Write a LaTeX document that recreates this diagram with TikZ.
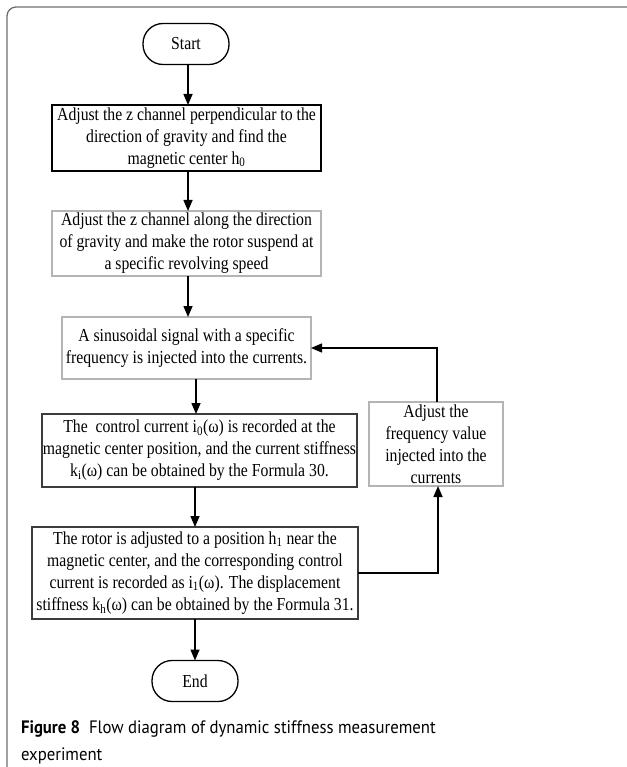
\documentclass[tikz,border=0pt]{standalone}
\usepackage{fontspec}
\setmainfont{Liberation Serif}[FakeStretch=0.86]
\newfontfamily\capfont{PT Sans}[FakeStretch=0.93]
\usetikzlibrary{arrows.meta}
\definecolor{frame}{HTML}{6E6E6E}
\definecolor{lightb}{HTML}{B4B4B4}
\definecolor{darkb}{HTML}{3C3C3C}
\tikzset{
  every node/.style={inner sep=0pt, outer sep=0pt},
  boxtext/.style={align=center, font=\fontsize{18.3}{22}\selectfont},
  stepbox/.style={boxtext, draw=#1, line width=1.3pt},
  termbox/.style={boxtext, draw=black, line width=1.3pt, rounded corners=20pt, minimum width=86pt, minimum height=41pt},
  arr/.style={line width=1.5pt, -{Triangle[length=11pt,width=9pt]}},
}
\begin{document}
\begin{tikzpicture}[x=1pt,y=-1pt]
\useasboundingbox (0,0) rectangle (626,767);
\draw[frame, line width=1.3pt, rounded corners=9pt] (7,790) -- (7,7) -- (650,7);

\node[termbox] (start) at (186,44) {Start};
\node[stepbox=black, minimum width=269pt, minimum height=66pt] (b1) at (186.5,138)
  {Adjust the z channel perpendicular to the\\direction of gravity and find the\\magnetic center h\textsubscript{0}};
\node[stepbox=lightb, minimum width=269pt, minimum height=65pt] (b2) at (186.5,243.5)
  {Adjust the z channel along the direction\\of gravity and make the rotor suspend at\\a specific revolving speed};
\node[stepbox=lightb, minimum width=249pt, minimum height=62pt] (b3) at (186.5,348)
  {A sinusoidal signal with a specific\\frequency is injected into the currents.};
\node[stepbox=darkb, minimum width=315pt, minimum height=73pt] (b4) at (199.5,450.5)
  {The\ \ control current i\textsubscript{0}(ω) is recorded at the\\magnetic center position, and the current stiffness\\k\textsubscript{i}(ω) can be obtained by the Formula 30.};
\node[stepbox=darkb, minimum width=326pt, minimum height=92pt] (b5) at (195,573)
  {The rotor is adjusted to a position h\textsubscript{1} near the\\magnetic center, and the corresponding control\\current is recorded as i\textsubscript{1}(ω). The displacement\\stiffness k\textsubscript{h}(ω) can be obtained by the Formula 31.};
\node[stepbox=lightb, minimum width=134pt, minimum height=84pt] (rb) at (436,444)
  {Adjust the\\frequency value\\injected into the\\currents};
\node[termbox] (end) at (195,681) {End};

\draw[arr] (start.south -| 188,0) -- (b1.north -| 188,0);
\draw[arr] (b1.south -| 188,0) -- (b2.north -| 188,0);
\draw[arr] (b2.south -| 188,0) -- (b3.north -| 188,0);
\draw[arr] (b3.south -| 196,0) -- (b4.north -| 196,0);
\draw[arr] (b4.south -| 195,0) -- (b5.north -| 195,0);
\draw[arr] (b5.south) -- (end.north);
\draw[arr] (b5.east) -| (rb.south -| 438,0);
\draw[arr] (rb.north -| 437,0) |- (b3.east);

\node[anchor=base west, align=left, font=\capfont\fontsize{18}{27}\selectfont] (cap) at (21,760)
  {\textbf{Figure 8}\enspace Flow diagram of dynamic stiffness measurement\\experiment};
\end{tikzpicture}
\end{document}
